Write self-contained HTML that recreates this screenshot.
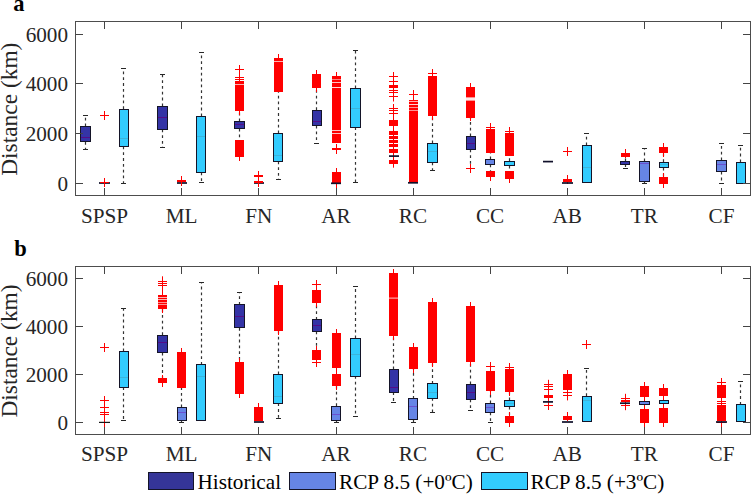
<!DOCTYPE html>
<html><head><meta charset="utf-8"><style>
html,body{margin:0;padding:0;background:#fff;}
body{width:751px;height:494px;overflow:hidden;}
svg{display:block;}
.t{font-family:"Liberation Serif",serif;font-size:21.2px;fill:#262626;}
.yl{font-family:"Liberation Serif",serif;font-size:23.4px;fill:#262626;}
.pl{font-family:"Liberation Serif",serif;font-size:22.5px;font-weight:bold;fill:#000;}
.lg{font-family:"Liberation Serif",serif;font-size:21.2px;fill:#000;}
</style></head><body>
<svg width="751" height="494" viewBox="0 0 751 494" shape-rendering="auto">
<line x1="85.50" y1="126.40" x2="85.50" y2="115.40" stroke="#333333" stroke-width="1.2" stroke-dasharray="2.8,3.0"/>
<line x1="83.00" y1="115.50" x2="88.00" y2="115.50" stroke="#262626" stroke-width="1.0"/>
<line x1="85.50" y1="141.90" x2="85.50" y2="149.20" stroke="#333333" stroke-width="1.2" stroke-dasharray="2.8,3.0"/>
<line x1="83.00" y1="149.50" x2="88.00" y2="149.50" stroke="#262626" stroke-width="1.0"/>
<rect x="80.50" y="126.50" width="10.00" height="15.00" fill="#3434a6" stroke="#141428" stroke-width="1.0"/>
<line x1="81.00" y1="137.50" x2="90.00" y2="137.50" stroke="#550c88" stroke-width="1.0"/>
<rect x="99.00" y="182.15" width="11.00" height="1.70" fill="#10102a"/>
<path d="M100.0 115.5H109.0M104.5 111.0V120.0" stroke="#ff0000" stroke-width="1" fill="none"/>
<path d="M100.0 182.5H109.0M104.5 178.0V187.0" stroke="#ff0000" stroke-width="1" fill="none"/>
<line x1="123.50" y1="109.10" x2="123.50" y2="68.10" stroke="#333333" stroke-width="1.2" stroke-dasharray="2.8,3.0"/>
<line x1="121.00" y1="68.50" x2="126.00" y2="68.50" stroke="#262626" stroke-width="1.0"/>
<line x1="123.50" y1="146.50" x2="123.50" y2="183.30" stroke="#333333" stroke-width="1.2" stroke-dasharray="2.8,3.0"/>
<line x1="121.00" y1="183.50" x2="126.00" y2="183.50" stroke="#262626" stroke-width="1.0"/>
<rect x="119.50" y="109.50" width="9.00" height="37.00" fill="#33ccff" stroke="#141428" stroke-width="1.0"/>
<line x1="120.00" y1="138.50" x2="128.00" y2="138.50" stroke="#3cb4dc" stroke-width="1.0"/>
<line x1="162.50" y1="106.20" x2="162.50" y2="74.50" stroke="#333333" stroke-width="1.2" stroke-dasharray="2.8,3.0"/>
<line x1="160.00" y1="74.50" x2="165.00" y2="74.50" stroke="#262626" stroke-width="1.0"/>
<line x1="162.50" y1="129.40" x2="162.50" y2="147.20" stroke="#333333" stroke-width="1.2" stroke-dasharray="2.8,3.0"/>
<line x1="160.00" y1="147.50" x2="165.00" y2="147.50" stroke="#262626" stroke-width="1.0"/>
<rect x="157.50" y="106.50" width="10.00" height="23.00" fill="#3434a6" stroke="#141428" stroke-width="1.0"/>
<line x1="158.00" y1="117.50" x2="167.00" y2="117.50" stroke="#550c88" stroke-width="1.0"/>
<rect x="177.00" y="182.15" width="10.00" height="1.70" fill="#10102a"/>
<path d="M177.0 180.5H186.0M181.5 176.0V185.0" stroke="#ff0000" stroke-width="1" fill="none"/>
<path d="M177.0 181.5H186.0M181.5 177.0V186.0" stroke="#ff0000" stroke-width="1" fill="none"/>
<line x1="201.50" y1="116.20" x2="201.50" y2="52.00" stroke="#333333" stroke-width="1.2" stroke-dasharray="2.8,3.0"/>
<line x1="199.00" y1="52.50" x2="204.00" y2="52.50" stroke="#262626" stroke-width="1.0"/>
<line x1="201.50" y1="172.50" x2="201.50" y2="182.80" stroke="#333333" stroke-width="1.2" stroke-dasharray="2.8,3.0"/>
<line x1="199.00" y1="182.50" x2="204.00" y2="182.50" stroke="#262626" stroke-width="1.0"/>
<rect x="196.50" y="116.50" width="9.00" height="56.00" fill="#33ccff" stroke="#141428" stroke-width="1.0"/>
<line x1="197.00" y1="136.50" x2="205.00" y2="136.50" stroke="#3cb4dc" stroke-width="1.0"/>
<line x1="239.50" y1="121.20" x2="239.50" y2="112.00" stroke="#333333" stroke-width="1.2" stroke-dasharray="2.8,3.0"/>
<line x1="239.50" y1="128.70" x2="239.50" y2="137.60" stroke="#333333" stroke-width="1.2" stroke-dasharray="2.8,3.0"/>
<line x1="239.50" y1="65.10" x2="239.50" y2="114.50" stroke="#ff0000" stroke-width="1.0"/>
<path d="M235.0 69.5H244.0M239.5 65.0V74.0" stroke="#ff0000" stroke-width="1" fill="none"/>
<path d="M235.0 77.5H244.0M239.5 73.0V82.0" stroke="#ff0000" stroke-width="1" fill="none"/>
<path d="M235.0 79.5H244.0M239.5 75.0V84.0" stroke="#ff0000" stroke-width="1" fill="none"/>
<path d="M235.0 110.5H244.0M239.5 106.0V115.0" stroke="#ff0000" stroke-width="1" fill="none"/>
<rect x="235.00" y="81.00" width="9.00" height="29.00" fill="#ff0000"/>
<rect x="235.00" y="84.00" width="9.00" height="1.00" fill="#ffb0b0"/>
<rect x="235.00" y="140.00" width="9.00" height="16.00" fill="#ff0000"/>
<path d="M235.0 156.5H244.0M239.5 152.0V161.0" stroke="#ff0000" stroke-width="1" fill="none"/>
<rect x="234.50" y="121.50" width="10.00" height="7.00" fill="#3434a6" stroke="#141428" stroke-width="1.0"/>
<line x1="235.00" y1="124.50" x2="244.00" y2="124.50" stroke="#550c88" stroke-width="1.0"/>
<rect x="254.00" y="182.15" width="10.00" height="1.70" fill="#10102a"/>
<path d="M254.0 175.5H263.0M258.5 171.0V180.0" stroke="#ff0000" stroke-width="1" fill="none"/>
<path d="M254.0 176.5H263.0M258.5 172.0V181.0" stroke="#ff0000" stroke-width="1" fill="none"/>
<path d="M254.0 181.5H263.0M258.5 177.0V186.0" stroke="#ff0000" stroke-width="1" fill="none"/>
<path d="M254.0 182.5H263.0M258.5 178.0V187.0" stroke="#ff0000" stroke-width="1" fill="none"/>
<line x1="278.50" y1="133.30" x2="278.50" y2="92.00" stroke="#333333" stroke-width="1.2" stroke-dasharray="2.8,3.0"/>
<rect x="274.00" y="58.00" width="9.00" height="34.00" fill="#ff0000"/>
<path d="M274.0 58.5H283.0M278.5 54.0V63.0" stroke="#ff0000" stroke-width="1" fill="none"/>
<rect x="274.00" y="61.00" width="9.00" height="1.00" fill="#ffb0b0"/>
<line x1="278.50" y1="161.40" x2="278.50" y2="179.40" stroke="#333333" stroke-width="1.2" stroke-dasharray="2.8,3.0"/>
<line x1="276.00" y1="179.50" x2="281.00" y2="179.50" stroke="#262626" stroke-width="1.0"/>
<rect x="273.50" y="133.50" width="9.00" height="28.00" fill="#33ccff" stroke="#141428" stroke-width="1.0"/>
<line x1="274.00" y1="155.50" x2="282.00" y2="155.50" stroke="#3cb4dc" stroke-width="1.0"/>
<line x1="316.50" y1="110.10" x2="316.50" y2="87.50" stroke="#333333" stroke-width="1.2" stroke-dasharray="2.8,3.0"/>
<rect x="312.00" y="74.00" width="9.00" height="14.00" fill="#ff0000"/>
<path d="M312.0 74.5H321.0M316.5 70.0V79.0" stroke="#ff0000" stroke-width="1" fill="none"/>
<path d="M312.0 87.5H321.0M316.5 83.0V92.0" stroke="#ff0000" stroke-width="1" fill="none"/>
<line x1="316.50" y1="125.60" x2="316.50" y2="143.70" stroke="#333333" stroke-width="1.2" stroke-dasharray="2.8,3.0"/>
<line x1="314.00" y1="143.50" x2="319.00" y2="143.50" stroke="#262626" stroke-width="1.0"/>
<rect x="312.50" y="110.50" width="9.00" height="15.00" fill="#3434a6" stroke="#141428" stroke-width="1.0"/>
<line x1="313.00" y1="121.50" x2="321.00" y2="121.50" stroke="#550c88" stroke-width="1.0"/>
<rect x="332.00" y="76.00" width="9.00" height="67.00" fill="#ff0000"/>
<path d="M332.0 76.5H341.0M336.5 72.0V81.0" stroke="#ff0000" stroke-width="1" fill="none"/>
<path d="M332.0 148.5H341.0M336.5 144.0V153.0" stroke="#ff0000" stroke-width="1" fill="none"/>
<path d="M332.0 149.5H341.0M336.5 145.0V154.0" stroke="#ff0000" stroke-width="1" fill="none"/>
<rect x="332.00" y="79.00" width="9.00" height="1.00" fill="#ff8080"/>
<rect x="332.00" y="82.00" width="9.00" height="1.00" fill="#ffc0c0"/>
<rect x="332.00" y="87.00" width="9.00" height="1.00" fill="#ffd8d8"/>
<rect x="332.00" y="130.00" width="9.00" height="1.00" fill="#ffc0c0"/>
<rect x="332.00" y="133.00" width="9.00" height="1.00" fill="#ffc0c0"/>
<path d="M332.0 172.5H341.0M336.5 168.0V177.0" stroke="#ff0000" stroke-width="1" fill="none"/>
<rect x="332.00" y="172.00" width="9.00" height="11.00" fill="#ff0000"/>
<path d="M332.0 183.5H341.0M336.5 179.0V188.0" stroke="#ff0000" stroke-width="1" fill="none"/>
<rect x="331.00" y="182.45" width="10.00" height="1.70" fill="#10102a"/>
<line x1="355.50" y1="88.40" x2="355.50" y2="50.60" stroke="#333333" stroke-width="1.2" stroke-dasharray="2.8,3.0"/>
<line x1="353.00" y1="50.50" x2="358.00" y2="50.50" stroke="#262626" stroke-width="1.0"/>
<line x1="355.50" y1="127.20" x2="355.50" y2="182.40" stroke="#333333" stroke-width="1.2" stroke-dasharray="2.8,3.0"/>
<line x1="353.00" y1="182.50" x2="358.00" y2="182.50" stroke="#262626" stroke-width="1.0"/>
<rect x="350.50" y="88.50" width="10.00" height="39.00" fill="#33ccff" stroke="#141428" stroke-width="1.0"/>
<line x1="351.00" y1="108.50" x2="360.00" y2="108.50" stroke="#3cb4dc" stroke-width="1.0"/>
<line x1="393.50" y1="72.10" x2="393.50" y2="101.50" stroke="#ff0000" stroke-width="1.0"/>
<line x1="393.50" y1="104.00" x2="393.50" y2="167.70" stroke="#ff0000" stroke-width="1.0"/>
<path d="M389.0 76.5H398.0M393.5 72.0V81.0" stroke="#ff0000" stroke-width="1" fill="none"/>
<path d="M389.0 81.5H398.0M393.5 77.0V86.0" stroke="#ff0000" stroke-width="1" fill="none"/>
<path d="M389.0 90.5H398.0M393.5 86.0V95.0" stroke="#ff0000" stroke-width="1" fill="none"/>
<path d="M389.0 92.5H398.0M393.5 88.0V97.0" stroke="#ff0000" stroke-width="1" fill="none"/>
<path d="M389.0 96.5H398.0M393.5 92.0V101.0" stroke="#ff0000" stroke-width="1" fill="none"/>
<path d="M389.0 108.5H398.0M393.5 104.0V113.0" stroke="#ff0000" stroke-width="1" fill="none"/>
<path d="M389.0 110.5H398.0M393.5 106.0V115.0" stroke="#ff0000" stroke-width="1" fill="none"/>
<path d="M389.0 113.5H398.0M393.5 109.0V118.0" stroke="#ff0000" stroke-width="1" fill="none"/>
<rect x="389.00" y="85.00" width="9.00" height="3.00" fill="#ff0000"/>
<rect x="389.00" y="120.00" width="9.00" height="6.00" fill="#ff0000"/>
<rect x="389.00" y="131.00" width="9.00" height="4.00" fill="#ff0000"/>
<rect x="389.00" y="136.00" width="9.00" height="3.00" fill="#ff0000"/>
<rect x="389.00" y="140.00" width="9.00" height="3.00" fill="#ff0000"/>
<rect x="389.00" y="144.00" width="9.00" height="3.00" fill="#ff0000"/>
<rect x="389.00" y="149.00" width="9.00" height="4.00" fill="#ff0000"/>
<rect x="389.00" y="160.00" width="9.00" height="4.00" fill="#ff0000"/>
<rect x="389.00" y="155.25" width="10.00" height="1.70" fill="#10102a"/>
<rect x="409.00" y="100.00" width="9.00" height="82.00" fill="#ff0000"/>
<path d="M409.0 94.5H418.0M413.5 90.0V99.0" stroke="#ff0000" stroke-width="1" fill="none"/>
<path d="M409.0 100.5H418.0M413.5 96.0V105.0" stroke="#ff0000" stroke-width="1" fill="none"/>
<rect x="408.00" y="181.95" width="10.00" height="1.70" fill="#10102a"/>
<rect x="409.00" y="101.00" width="9.00" height="1.00" fill="#ffb0b0"/>
<rect x="409.00" y="104.00" width="9.00" height="1.00" fill="#ffd0d0"/>
<rect x="409.00" y="107.00" width="9.00" height="1.00" fill="#ff9090"/>
<rect x="409.00" y="110.00" width="9.00" height="1.00" fill="#ff9090"/>
<line x1="432.50" y1="143.40" x2="432.50" y2="116.00" stroke="#333333" stroke-width="1.2" stroke-dasharray="2.8,3.0"/>
<rect x="428.00" y="76.00" width="9.00" height="39.00" fill="#ff0000"/>
<path d="M428.0 73.5H437.0M432.5 69.0V78.0" stroke="#ff0000" stroke-width="1" fill="none"/>
<path d="M428.0 115.5H437.0M432.5 111.0V120.0" stroke="#ff0000" stroke-width="1" fill="none"/>
<line x1="432.50" y1="162.50" x2="432.50" y2="170.30" stroke="#333333" stroke-width="1.2" stroke-dasharray="2.8,3.0"/>
<line x1="430.00" y1="170.50" x2="435.00" y2="170.50" stroke="#262626" stroke-width="1.0"/>
<rect x="427.50" y="143.50" width="10.00" height="19.00" fill="#33ccff" stroke="#141428" stroke-width="1.0"/>
<line x1="428.00" y1="151.50" x2="437.00" y2="151.50" stroke="#3cb4dc" stroke-width="1.0"/>
<line x1="470.50" y1="136.30" x2="470.50" y2="117.00" stroke="#333333" stroke-width="1.2" stroke-dasharray="2.8,3.0"/>
<line x1="470.50" y1="149.40" x2="470.50" y2="164.00" stroke="#333333" stroke-width="1.2" stroke-dasharray="2.8,3.0"/>
<rect x="466.00" y="87.00" width="9.00" height="10.00" fill="#ff0000"/>
<rect x="466.00" y="101.00" width="9.00" height="17.00" fill="#ff0000"/>
<rect x="466.00" y="97.00" width="9.00" height="1.00" fill="#ff9090"/>
<rect x="466.00" y="98.00" width="9.00" height="2.00" fill="#ffe8e8"/>
<rect x="466.00" y="100.00" width="9.00" height="1.00" fill="#ff9090"/>
<path d="M466.0 87.5H475.0M470.5 83.0V92.0" stroke="#ff0000" stroke-width="1" fill="none"/>
<path d="M466.0 116.5H475.0M470.5 112.0V121.0" stroke="#ff0000" stroke-width="1" fill="none"/>
<path d="M466.0 168.5H475.0M470.5 164.0V173.0" stroke="#ff0000" stroke-width="1" fill="none"/>
<rect x="466.50" y="136.50" width="9.00" height="13.00" fill="#3434a6" stroke="#141428" stroke-width="1.0"/>
<line x1="467.00" y1="143.50" x2="475.00" y2="143.50" stroke="#550c88" stroke-width="1.0"/>
<line x1="490.50" y1="159.30" x2="490.50" y2="152.00" stroke="#333333" stroke-width="1.2" stroke-dasharray="2.8,3.0"/>
<line x1="490.50" y1="164.40" x2="490.50" y2="171.00" stroke="#333333" stroke-width="1.2" stroke-dasharray="2.8,3.0"/>
<rect x="486.00" y="129.00" width="9.00" height="24.00" fill="#ff0000"/>
<path d="M486.0 127.5H495.0M490.5 123.0V132.0" stroke="#ff0000" stroke-width="1" fill="none"/>
<rect x="486.00" y="171.00" width="9.00" height="5.00" fill="#ff0000"/>
<path d="M486.0 176.5H495.0M490.5 172.0V181.0" stroke="#ff0000" stroke-width="1" fill="none"/>
<rect x="485.50" y="159.50" width="9.00" height="5.00" fill="#6685e6" stroke="#141428" stroke-width="1.0"/>
<line x1="509.50" y1="161.10" x2="509.50" y2="155.00" stroke="#333333" stroke-width="1.2" stroke-dasharray="2.8,3.0"/>
<line x1="509.50" y1="165.70" x2="509.50" y2="171.00" stroke="#333333" stroke-width="1.2" stroke-dasharray="2.8,3.0"/>
<rect x="505.00" y="133.00" width="9.00" height="23.00" fill="#ff0000"/>
<path d="M505.0 131.5H514.0M509.5 127.0V136.0" stroke="#ff0000" stroke-width="1" fill="none"/>
<rect x="505.00" y="171.00" width="9.00" height="8.00" fill="#ff0000"/>
<path d="M505.0 178.5H514.0M509.5 174.0V183.0" stroke="#ff0000" stroke-width="1" fill="none"/>
<rect x="504.50" y="161.50" width="10.00" height="4.00" fill="#33ccff" stroke="#141428" stroke-width="1.0"/>
<rect x="543.00" y="160.75" width="10.00" height="1.70" fill="#10102a"/>
<path d="M563.0 151.5H572.0M567.5 147.0V156.0" stroke="#ff0000" stroke-width="1" fill="none"/>
<rect x="563.00" y="179.00" width="9.00" height="3.00" fill="#ff0000"/>
<path d="M563.0 179.5H572.0M567.5 175.0V184.0" stroke="#ff0000" stroke-width="1" fill="none"/>
<rect x="562.00" y="182.15" width="11.00" height="1.70" fill="#10102a"/>
<line x1="586.50" y1="145.30" x2="586.50" y2="133.80" stroke="#333333" stroke-width="1.2" stroke-dasharray="2.8,3.0"/>
<line x1="584.00" y1="133.50" x2="589.00" y2="133.50" stroke="#262626" stroke-width="1.0"/>
<rect x="582.50" y="145.50" width="9.00" height="37.00" fill="#33ccff" stroke="#141428" stroke-width="1.0"/>
<line x1="583.00" y1="167.50" x2="591.00" y2="167.50" stroke="#3cb4dc" stroke-width="1.0"/>
<line x1="625.50" y1="161.20" x2="625.50" y2="157.00" stroke="#333333" stroke-width="1.2" stroke-dasharray="2.8,3.0"/>
<rect x="621.00" y="153.00" width="9.00" height="4.00" fill="#ff0000"/>
<path d="M621.0 153.5H630.0M625.5 149.0V158.0" stroke="#ff0000" stroke-width="1" fill="none"/>
<line x1="625.50" y1="164.20" x2="625.50" y2="168.40" stroke="#333333" stroke-width="1.2" stroke-dasharray="2.8,3.0"/>
<line x1="623.00" y1="168.50" x2="628.00" y2="168.50" stroke="#262626" stroke-width="1.0"/>
<rect x="620.50" y="161.50" width="9.00" height="3.00" fill="#3434a6" stroke="#141428" stroke-width="1.0"/>
<line x1="644.50" y1="161.20" x2="644.50" y2="148.40" stroke="#333333" stroke-width="1.2" stroke-dasharray="2.8,3.0"/>
<line x1="642.00" y1="148.50" x2="647.00" y2="148.50" stroke="#262626" stroke-width="1.0"/>
<line x1="644.50" y1="181.60" x2="644.50" y2="183.30" stroke="#333333" stroke-width="1.2" stroke-dasharray="2.8,3.0"/>
<line x1="642.00" y1="183.50" x2="647.00" y2="183.50" stroke="#262626" stroke-width="1.0"/>
<rect x="639.50" y="161.50" width="10.00" height="20.00" fill="#6685e6" stroke="#141428" stroke-width="1.0"/>
<line x1="640.00" y1="163.50" x2="649.00" y2="163.50" stroke="#6a50d0" stroke-width="1.0"/>
<line x1="663.50" y1="162.00" x2="663.50" y2="153.00" stroke="#333333" stroke-width="1.2" stroke-dasharray="2.8,3.0"/>
<line x1="663.50" y1="167.80" x2="663.50" y2="177.00" stroke="#333333" stroke-width="1.2" stroke-dasharray="2.8,3.0"/>
<rect x="659.00" y="147.00" width="9.00" height="6.00" fill="#ff0000"/>
<path d="M659.0 147.5H668.0M663.5 143.0V152.0" stroke="#ff0000" stroke-width="1" fill="none"/>
<path d="M659.0 152.5H668.0M663.5 148.0V157.0" stroke="#ff0000" stroke-width="1" fill="none"/>
<rect x="659.00" y="177.00" width="9.00" height="7.00" fill="#ff0000"/>
<path d="M659.0 177.5H668.0M663.5 173.0V182.0" stroke="#ff0000" stroke-width="1" fill="none"/>
<path d="M659.0 183.5H668.0M663.5 179.0V188.0" stroke="#ff0000" stroke-width="1" fill="none"/>
<rect x="659.50" y="162.50" width="9.00" height="5.00" fill="#33ccff" stroke="#141428" stroke-width="1.0"/>
<line x1="660.00" y1="164.50" x2="668.00" y2="164.50" stroke="#3cb4dc" stroke-width="1.0"/>
<line x1="721.50" y1="160.30" x2="721.50" y2="143.40" stroke="#333333" stroke-width="1.2" stroke-dasharray="2.8,3.0"/>
<line x1="719.00" y1="143.50" x2="724.00" y2="143.50" stroke="#262626" stroke-width="1.0"/>
<line x1="721.50" y1="171.80" x2="721.50" y2="183.30" stroke="#333333" stroke-width="1.2" stroke-dasharray="2.8,3.0"/>
<line x1="719.00" y1="183.50" x2="724.00" y2="183.50" stroke="#262626" stroke-width="1.0"/>
<rect x="716.50" y="160.50" width="10.00" height="11.00" fill="#6685e6" stroke="#141428" stroke-width="1.0"/>
<line x1="717.00" y1="164.50" x2="726.00" y2="164.50" stroke="#6a50d0" stroke-width="1.0"/>
<line x1="740.50" y1="162.20" x2="740.50" y2="145.40" stroke="#333333" stroke-width="1.2" stroke-dasharray="2.8,3.0"/>
<line x1="738.00" y1="145.50" x2="743.00" y2="145.50" stroke="#262626" stroke-width="1.0"/>
<rect x="736.50" y="162.50" width="9.00" height="21.00" fill="#33ccff" stroke="#141428" stroke-width="1.0"/>
<rect x="75.50" y="21.50" width="675.00" height="174.00" fill="none" stroke="#4d4d4d" stroke-width="1.0"/>
<line x1="75.50" y1="183.50" x2="83.00" y2="183.50" stroke="#444444" stroke-width="1.0"/>
<line x1="750.50" y1="183.50" x2="743.00" y2="183.50" stroke="#444444" stroke-width="1.0"/>
<line x1="75.50" y1="133.50" x2="83.00" y2="133.50" stroke="#444444" stroke-width="1.0"/>
<line x1="750.50" y1="133.50" x2="743.00" y2="133.50" stroke="#444444" stroke-width="1.0"/>
<line x1="75.50" y1="83.50" x2="83.00" y2="83.50" stroke="#444444" stroke-width="1.0"/>
<line x1="750.50" y1="83.50" x2="743.00" y2="83.50" stroke="#444444" stroke-width="1.0"/>
<line x1="75.50" y1="34.50" x2="83.00" y2="34.50" stroke="#444444" stroke-width="1.0"/>
<line x1="750.50" y1="34.50" x2="743.00" y2="34.50" stroke="#444444" stroke-width="1.0"/>
<line x1="104.50" y1="195.50" x2="104.50" y2="188.00" stroke="#444444" stroke-width="1.0"/>
<line x1="104.50" y1="21.50" x2="104.50" y2="29.00" stroke="#444444" stroke-width="1.0"/>
<line x1="181.50" y1="195.50" x2="181.50" y2="188.00" stroke="#444444" stroke-width="1.0"/>
<line x1="181.50" y1="21.50" x2="181.50" y2="29.00" stroke="#444444" stroke-width="1.0"/>
<line x1="258.50" y1="195.50" x2="258.50" y2="188.00" stroke="#444444" stroke-width="1.0"/>
<line x1="258.50" y1="21.50" x2="258.50" y2="29.00" stroke="#444444" stroke-width="1.0"/>
<line x1="336.50" y1="195.50" x2="336.50" y2="188.00" stroke="#444444" stroke-width="1.0"/>
<line x1="336.50" y1="21.50" x2="336.50" y2="29.00" stroke="#444444" stroke-width="1.0"/>
<line x1="413.50" y1="195.50" x2="413.50" y2="188.00" stroke="#444444" stroke-width="1.0"/>
<line x1="413.50" y1="21.50" x2="413.50" y2="29.00" stroke="#444444" stroke-width="1.0"/>
<line x1="490.50" y1="195.50" x2="490.50" y2="188.00" stroke="#444444" stroke-width="1.0"/>
<line x1="490.50" y1="21.50" x2="490.50" y2="29.00" stroke="#444444" stroke-width="1.0"/>
<line x1="567.50" y1="195.50" x2="567.50" y2="188.00" stroke="#444444" stroke-width="1.0"/>
<line x1="567.50" y1="21.50" x2="567.50" y2="29.00" stroke="#444444" stroke-width="1.0"/>
<line x1="644.50" y1="195.50" x2="644.50" y2="188.00" stroke="#444444" stroke-width="1.0"/>
<line x1="644.50" y1="21.50" x2="644.50" y2="29.00" stroke="#444444" stroke-width="1.0"/>
<line x1="721.50" y1="195.50" x2="721.50" y2="188.00" stroke="#444444" stroke-width="1.0"/>
<line x1="721.50" y1="21.50" x2="721.50" y2="29.00" stroke="#444444" stroke-width="1.0"/>
<path d="M100.0 347.5H109.0M104.5 343.0V352.0" stroke="#ff0000" stroke-width="1" fill="none"/>
<path d="M100.0 400.5H109.0M104.5 396.0V405.0" stroke="#ff0000" stroke-width="1" fill="none"/>
<path d="M100.0 407.5H109.0M104.5 403.0V412.0" stroke="#ff0000" stroke-width="1" fill="none"/>
<path d="M100.0 412.5H109.0M104.5 408.0V417.0" stroke="#ff0000" stroke-width="1" fill="none"/>
<path d="M100.0 414.5H109.0M104.5 410.0V419.0" stroke="#ff0000" stroke-width="1" fill="none"/>
<path d="M100.0 422.5H109.0M104.5 418.0V427.0" stroke="#ff0000" stroke-width="1" fill="none"/>
<rect x="99.00" y="421.80" width="11.00" height="1.20" fill="#181818"/>
<line x1="123.50" y1="351.40" x2="123.50" y2="308.90" stroke="#333333" stroke-width="1.2" stroke-dasharray="2.8,3.0"/>
<line x1="121.00" y1="308.50" x2="126.00" y2="308.50" stroke="#262626" stroke-width="1.0"/>
<line x1="123.50" y1="387.10" x2="123.50" y2="420.30" stroke="#333333" stroke-width="1.2" stroke-dasharray="2.8,3.0"/>
<line x1="121.00" y1="420.50" x2="126.00" y2="420.50" stroke="#262626" stroke-width="1.0"/>
<rect x="119.50" y="351.50" width="9.00" height="36.00" fill="#33ccff" stroke="#141428" stroke-width="1.0"/>
<line x1="120.00" y1="377.50" x2="128.00" y2="377.50" stroke="#3cb4dc" stroke-width="1.0"/>
<line x1="162.50" y1="335.10" x2="162.50" y2="309.00" stroke="#333333" stroke-width="1.2" stroke-dasharray="2.8,3.0"/>
<line x1="162.50" y1="352.70" x2="162.50" y2="378.00" stroke="#333333" stroke-width="1.2" stroke-dasharray="2.8,3.0"/>
<line x1="162.50" y1="276.30" x2="162.50" y2="313.00" stroke="#ff0000" stroke-width="1.0"/>
<path d="M158.0 281.5H167.0M162.5 277.0V286.0" stroke="#ff0000" stroke-width="1" fill="none"/>
<path d="M158.0 281.5H167.0M162.5 277.0V286.0" stroke="#ff0000" stroke-width="1" fill="none"/>
<path d="M158.0 283.5H167.0M162.5 279.0V288.0" stroke="#ff0000" stroke-width="1" fill="none"/>
<path d="M158.0 285.5H167.0M162.5 281.0V290.0" stroke="#ff0000" stroke-width="1" fill="none"/>
<path d="M158.0 295.5H167.0M162.5 291.0V300.0" stroke="#ff0000" stroke-width="1" fill="none"/>
<path d="M158.0 297.5H167.0M162.5 293.0V302.0" stroke="#ff0000" stroke-width="1" fill="none"/>
<path d="M158.0 299.5H167.0M162.5 295.0V304.0" stroke="#ff0000" stroke-width="1" fill="none"/>
<path d="M158.0 308.5H167.0M162.5 304.0V313.0" stroke="#ff0000" stroke-width="1" fill="none"/>
<rect x="158.00" y="295.00" width="9.00" height="14.00" fill="#ff0000"/>
<rect x="158.00" y="297.00" width="9.00" height="1.00" fill="#ffb0b0"/>
<rect x="158.00" y="299.00" width="9.00" height="1.00" fill="#ffb0b0"/>
<rect x="158.00" y="302.00" width="9.00" height="1.00" fill="#ff9090"/>
<rect x="158.00" y="304.00" width="9.00" height="1.00" fill="#ff9090"/>
<rect x="158.00" y="378.00" width="9.00" height="5.00" fill="#ff0000"/>
<path d="M158.0 379.5H167.0M162.5 375.0V384.0" stroke="#ff0000" stroke-width="1" fill="none"/>
<path d="M158.0 382.5H167.0M162.5 378.0V387.0" stroke="#ff0000" stroke-width="1" fill="none"/>
<rect x="157.50" y="335.50" width="10.00" height="17.00" fill="#3434a6" stroke="#141428" stroke-width="1.0"/>
<line x1="158.00" y1="342.50" x2="167.00" y2="342.50" stroke="#550c88" stroke-width="1.0"/>
<line x1="181.50" y1="407.30" x2="181.50" y2="388.00" stroke="#333333" stroke-width="1.2" stroke-dasharray="2.8,3.0"/>
<rect x="177.00" y="352.00" width="9.00" height="36.00" fill="#ff0000"/>
<path d="M177.0 352.5H186.0M181.5 348.0V357.0" stroke="#ff0000" stroke-width="1" fill="none"/>
<line x1="181.50" y1="420.30" x2="181.50" y2="422.00" stroke="#333333" stroke-width="1.2" stroke-dasharray="2.8,3.0"/>
<line x1="179.00" y1="422.50" x2="184.00" y2="422.50" stroke="#262626" stroke-width="1.0"/>
<rect x="177.50" y="407.50" width="9.00" height="13.00" fill="#6685e6" stroke="#141428" stroke-width="1.0"/>
<line x1="178.00" y1="412.50" x2="186.00" y2="412.50" stroke="#6a50d0" stroke-width="1.0"/>
<line x1="201.50" y1="364.80" x2="201.50" y2="282.60" stroke="#333333" stroke-width="1.2" stroke-dasharray="2.8,3.0"/>
<line x1="199.00" y1="282.50" x2="204.00" y2="282.50" stroke="#262626" stroke-width="1.0"/>
<rect x="196.50" y="364.50" width="9.00" height="56.00" fill="#33ccff" stroke="#141428" stroke-width="1.0"/>
<line x1="197.00" y1="376.50" x2="205.00" y2="376.50" stroke="#3cb4dc" stroke-width="1.0"/>
<line x1="239.50" y1="328.00" x2="239.50" y2="362.00" stroke="#333333" stroke-width="1.2" stroke-dasharray="2.8,3.0"/>
<rect x="235.00" y="362.00" width="9.00" height="32.00" fill="#ff0000"/>
<path d="M235.0 362.5H244.0M239.5 358.0V367.0" stroke="#ff0000" stroke-width="1" fill="none"/>
<path d="M235.0 391.5H244.0M239.5 387.0V396.0" stroke="#ff0000" stroke-width="1" fill="none"/>
<path d="M235.0 393.5H244.0M239.5 389.0V398.0" stroke="#ff0000" stroke-width="1" fill="none"/>
<line x1="239.50" y1="304.90" x2="239.50" y2="292.00" stroke="#333333" stroke-width="1.2" stroke-dasharray="2.8,3.0"/>
<line x1="237.00" y1="292.50" x2="242.00" y2="292.50" stroke="#262626" stroke-width="1.0"/>
<rect x="234.50" y="304.50" width="10.00" height="23.00" fill="#3434a6" stroke="#141428" stroke-width="1.0"/>
<line x1="235.00" y1="316.50" x2="244.00" y2="316.50" stroke="#550c88" stroke-width="1.0"/>
<rect x="254.00" y="407.00" width="9.00" height="14.00" fill="#ff0000"/>
<path d="M254.0 407.5H263.0M258.5 403.0V412.0" stroke="#ff0000" stroke-width="1" fill="none"/>
<rect x="254.00" y="421.15" width="10.00" height="1.70" fill="#10102a"/>
<line x1="278.50" y1="374.40" x2="278.50" y2="330.00" stroke="#333333" stroke-width="1.2" stroke-dasharray="2.8,3.0"/>
<rect x="274.00" y="286.00" width="9.00" height="44.00" fill="#ff0000"/>
<path d="M274.0 285.5H283.0M278.5 281.0V290.0" stroke="#ff0000" stroke-width="1" fill="none"/>
<path d="M274.0 330.5H283.0M278.5 326.0V335.0" stroke="#ff0000" stroke-width="1" fill="none"/>
<line x1="278.50" y1="403.30" x2="278.50" y2="418.10" stroke="#333333" stroke-width="1.2" stroke-dasharray="2.8,3.0"/>
<line x1="276.00" y1="418.50" x2="281.00" y2="418.50" stroke="#262626" stroke-width="1.0"/>
<rect x="273.50" y="374.50" width="9.00" height="29.00" fill="#33ccff" stroke="#141428" stroke-width="1.0"/>
<line x1="274.00" y1="396.50" x2="282.00" y2="396.50" stroke="#3cb4dc" stroke-width="1.0"/>
<line x1="316.50" y1="319.90" x2="316.50" y2="302.00" stroke="#333333" stroke-width="1.2" stroke-dasharray="2.8,3.0"/>
<line x1="316.50" y1="331.40" x2="316.50" y2="349.00" stroke="#333333" stroke-width="1.2" stroke-dasharray="2.8,3.0"/>
<rect x="312.00" y="290.00" width="9.00" height="12.00" fill="#ff0000"/>
<path d="M312.0 284.5H321.0M316.5 280.0V289.0" stroke="#ff0000" stroke-width="1" fill="none"/>
<path d="M312.0 290.5H321.0M316.5 286.0V295.0" stroke="#ff0000" stroke-width="1" fill="none"/>
<path d="M312.0 302.5H321.0M316.5 298.0V307.0" stroke="#ff0000" stroke-width="1" fill="none"/>
<rect x="312.00" y="350.00" width="9.00" height="10.00" fill="#ff0000"/>
<path d="M312.0 350.5H321.0M316.5 346.0V355.0" stroke="#ff0000" stroke-width="1" fill="none"/>
<path d="M312.0 362.5H321.0M316.5 358.0V367.0" stroke="#ff0000" stroke-width="1" fill="none"/>
<rect x="312.50" y="319.50" width="9.00" height="12.00" fill="#3434a6" stroke="#141428" stroke-width="1.0"/>
<line x1="313.00" y1="325.50" x2="321.00" y2="325.50" stroke="#550c88" stroke-width="1.0"/>
<line x1="336.50" y1="406.10" x2="336.50" y2="386.00" stroke="#333333" stroke-width="1.2" stroke-dasharray="2.8,3.0"/>
<rect x="332.00" y="333.00" width="9.00" height="34.00" fill="#ff0000"/>
<path d="M332.0 333.5H341.0M336.5 329.0V338.0" stroke="#ff0000" stroke-width="1" fill="none"/>
<path d="M332.0 367.5H341.0M336.5 363.0V372.0" stroke="#ff0000" stroke-width="1" fill="none"/>
<rect x="332.00" y="374.00" width="9.00" height="12.00" fill="#ff0000"/>
<path d="M332.0 374.5H341.0M336.5 370.0V379.0" stroke="#ff0000" stroke-width="1" fill="none"/>
<path d="M332.0 385.5H341.0M336.5 381.0V390.0" stroke="#ff0000" stroke-width="1" fill="none"/>
<line x1="336.50" y1="420.30" x2="336.50" y2="422.00" stroke="#333333" stroke-width="1.2" stroke-dasharray="2.8,3.0"/>
<line x1="334.00" y1="422.50" x2="339.00" y2="422.50" stroke="#262626" stroke-width="1.0"/>
<rect x="331.50" y="406.50" width="9.00" height="14.00" fill="#6685e6" stroke="#141428" stroke-width="1.0"/>
<line x1="332.00" y1="414.50" x2="340.00" y2="414.50" stroke="#6a50d0" stroke-width="1.0"/>
<line x1="355.50" y1="338.30" x2="355.50" y2="286.70" stroke="#333333" stroke-width="1.2" stroke-dasharray="2.8,3.0"/>
<line x1="353.00" y1="286.50" x2="358.00" y2="286.50" stroke="#262626" stroke-width="1.0"/>
<line x1="355.50" y1="376.00" x2="355.50" y2="416.90" stroke="#333333" stroke-width="1.2" stroke-dasharray="2.8,3.0"/>
<line x1="353.00" y1="416.50" x2="358.00" y2="416.50" stroke="#262626" stroke-width="1.0"/>
<rect x="350.50" y="338.50" width="10.00" height="38.00" fill="#33ccff" stroke="#141428" stroke-width="1.0"/>
<line x1="351.00" y1="354.50" x2="360.00" y2="354.50" stroke="#3cb4dc" stroke-width="1.0"/>
<line x1="393.50" y1="369.20" x2="393.50" y2="336.00" stroke="#333333" stroke-width="1.2" stroke-dasharray="2.8,3.0"/>
<rect x="389.00" y="273.00" width="9.00" height="63.00" fill="#ff0000"/>
<path d="M389.0 273.5H398.0M393.5 269.0V278.0" stroke="#ff0000" stroke-width="1" fill="none"/>
<path d="M389.0 335.5H398.0M393.5 331.0V340.0" stroke="#ff0000" stroke-width="1" fill="none"/>
<rect x="389.00" y="297.60" width="9.00" height="1.00" fill="#ffc8c8"/>
<line x1="393.50" y1="392.30" x2="393.50" y2="402.50" stroke="#333333" stroke-width="1.2" stroke-dasharray="2.8,3.0"/>
<line x1="391.00" y1="402.50" x2="396.00" y2="402.50" stroke="#262626" stroke-width="1.0"/>
<rect x="389.50" y="369.50" width="9.00" height="23.00" fill="#3434a6" stroke="#141428" stroke-width="1.0"/>
<line x1="390.00" y1="387.50" x2="398.00" y2="387.50" stroke="#550c88" stroke-width="1.0"/>
<line x1="413.50" y1="398.90" x2="413.50" y2="368.00" stroke="#333333" stroke-width="1.2" stroke-dasharray="2.8,3.0"/>
<rect x="409.00" y="347.00" width="9.00" height="22.00" fill="#ff0000"/>
<path d="M409.0 347.5H418.0M413.5 343.0V352.0" stroke="#ff0000" stroke-width="1" fill="none"/>
<path d="M409.0 368.5H418.0M413.5 364.0V373.0" stroke="#ff0000" stroke-width="1" fill="none"/>
<line x1="413.50" y1="419.70" x2="413.50" y2="422.40" stroke="#333333" stroke-width="1.2" stroke-dasharray="2.8,3.0"/>
<line x1="411.00" y1="422.50" x2="416.00" y2="422.50" stroke="#262626" stroke-width="1.0"/>
<rect x="408.50" y="398.50" width="9.00" height="21.00" fill="#6685e6" stroke="#141428" stroke-width="1.0"/>
<line x1="409.00" y1="406.50" x2="417.00" y2="406.50" stroke="#6a50d0" stroke-width="1.0"/>
<line x1="432.50" y1="383.70" x2="432.50" y2="362.00" stroke="#333333" stroke-width="1.2" stroke-dasharray="2.8,3.0"/>
<rect x="428.00" y="302.00" width="9.00" height="61.00" fill="#ff0000"/>
<path d="M428.0 302.5H437.0M432.5 298.0V307.0" stroke="#ff0000" stroke-width="1" fill="none"/>
<path d="M428.0 362.5H437.0M432.5 358.0V367.0" stroke="#ff0000" stroke-width="1" fill="none"/>
<line x1="432.50" y1="398.00" x2="432.50" y2="412.40" stroke="#333333" stroke-width="1.2" stroke-dasharray="2.8,3.0"/>
<line x1="430.00" y1="412.50" x2="435.00" y2="412.50" stroke="#262626" stroke-width="1.0"/>
<rect x="427.50" y="383.50" width="10.00" height="15.00" fill="#33ccff" stroke="#141428" stroke-width="1.0"/>
<line x1="428.00" y1="392.50" x2="437.00" y2="392.50" stroke="#3cb4dc" stroke-width="1.0"/>
<line x1="470.50" y1="384.20" x2="470.50" y2="362.00" stroke="#333333" stroke-width="1.2" stroke-dasharray="2.8,3.0"/>
<rect x="466.00" y="306.00" width="9.00" height="56.00" fill="#ff0000"/>
<path d="M466.0 306.5H475.0M470.5 302.0V311.0" stroke="#ff0000" stroke-width="1" fill="none"/>
<path d="M466.0 361.5H475.0M470.5 357.0V366.0" stroke="#ff0000" stroke-width="1" fill="none"/>
<line x1="470.50" y1="399.50" x2="470.50" y2="410.40" stroke="#333333" stroke-width="1.2" stroke-dasharray="2.8,3.0"/>
<line x1="468.00" y1="410.50" x2="473.00" y2="410.50" stroke="#262626" stroke-width="1.0"/>
<rect x="466.50" y="384.50" width="9.00" height="15.00" fill="#3434a6" stroke="#141428" stroke-width="1.0"/>
<line x1="467.00" y1="392.50" x2="475.00" y2="392.50" stroke="#550c88" stroke-width="1.0"/>
<line x1="490.50" y1="403.30" x2="490.50" y2="391.00" stroke="#333333" stroke-width="1.2" stroke-dasharray="2.8,3.0"/>
<rect x="486.00" y="371.00" width="9.00" height="20.00" fill="#ff0000"/>
<path d="M486.0 366.5H495.0M490.5 362.0V371.0" stroke="#ff0000" stroke-width="1" fill="none"/>
<path d="M486.0 371.5H495.0M490.5 367.0V376.0" stroke="#ff0000" stroke-width="1" fill="none"/>
<path d="M486.0 390.5H495.0M490.5 386.0V395.0" stroke="#ff0000" stroke-width="1" fill="none"/>
<line x1="490.50" y1="412.40" x2="490.50" y2="422.10" stroke="#333333" stroke-width="1.2" stroke-dasharray="2.8,3.0"/>
<line x1="488.00" y1="422.50" x2="493.00" y2="422.50" stroke="#262626" stroke-width="1.0"/>
<rect x="485.50" y="403.50" width="9.00" height="9.00" fill="#6685e6" stroke="#141428" stroke-width="1.0"/>
<line x1="486.00" y1="407.50" x2="494.00" y2="407.50" stroke="#6a50d0" stroke-width="1.0"/>
<line x1="509.50" y1="400.20" x2="509.50" y2="392.00" stroke="#333333" stroke-width="1.2" stroke-dasharray="2.8,3.0"/>
<line x1="509.50" y1="406.60" x2="509.50" y2="415.00" stroke="#333333" stroke-width="1.2" stroke-dasharray="2.8,3.0"/>
<rect x="505.00" y="370.00" width="9.00" height="22.00" fill="#ff0000"/>
<path d="M505.0 367.5H514.0M509.5 363.0V372.0" stroke="#ff0000" stroke-width="1" fill="none"/>
<path d="M505.0 369.5H514.0M509.5 365.0V374.0" stroke="#ff0000" stroke-width="1" fill="none"/>
<path d="M505.0 391.5H514.0M509.5 387.0V396.0" stroke="#ff0000" stroke-width="1" fill="none"/>
<rect x="505.00" y="416.00" width="9.00" height="7.00" fill="#ff0000"/>
<path d="M505.0 416.5H514.0M509.5 412.0V421.0" stroke="#ff0000" stroke-width="1" fill="none"/>
<path d="M505.0 422.5H514.0M509.5 418.0V427.0" stroke="#ff0000" stroke-width="1" fill="none"/>
<rect x="504.50" y="400.50" width="10.00" height="6.00" fill="#33ccff" stroke="#141428" stroke-width="1.0"/>
<line x1="505.00" y1="403.50" x2="514.00" y2="403.50" stroke="#3cb4dc" stroke-width="1.0"/>
<line x1="548.50" y1="379.80" x2="548.50" y2="410.00" stroke="#ff0000" stroke-width="1.0"/>
<path d="M544.0 384.5H553.0M548.5 380.0V389.0" stroke="#ff0000" stroke-width="1" fill="none"/>
<path d="M544.0 386.5H553.0M548.5 382.0V391.0" stroke="#ff0000" stroke-width="1" fill="none"/>
<path d="M544.0 389.5H553.0M548.5 385.0V394.0" stroke="#ff0000" stroke-width="1" fill="none"/>
<path d="M544.0 405.5H553.0M548.5 401.0V410.0" stroke="#ff0000" stroke-width="1" fill="none"/>
<rect x="544.00" y="395.00" width="9.00" height="3.00" fill="#ff0000"/>
<rect x="543.00" y="401.05" width="10.00" height="1.70" fill="#10102a"/>
<line x1="567.50" y1="370.20" x2="567.50" y2="400.40" stroke="#ff0000" stroke-width="1.0"/>
<rect x="563.00" y="375.00" width="9.00" height="15.00" fill="#ff0000"/>
<path d="M563.0 374.5H572.0M567.5 370.0V379.0" stroke="#ff0000" stroke-width="1" fill="none"/>
<path d="M563.0 389.5H572.0M567.5 385.0V394.0" stroke="#ff0000" stroke-width="1" fill="none"/>
<path d="M563.0 392.5H572.0M567.5 388.0V397.0" stroke="#ff0000" stroke-width="1" fill="none"/>
<path d="M563.0 395.5H572.0M567.5 391.0V400.0" stroke="#ff0000" stroke-width="1" fill="none"/>
<rect x="563.00" y="416.00" width="9.00" height="4.00" fill="#ff0000"/>
<path d="M563.0 416.5H572.0M567.5 412.0V421.0" stroke="#ff0000" stroke-width="1" fill="none"/>
<rect x="562.00" y="421.15" width="11.00" height="1.70" fill="#10102a"/>
<path d="M582.0 344.5H591.0M586.5 340.0V349.0" stroke="#ff0000" stroke-width="1" fill="none"/>
<line x1="586.50" y1="396.00" x2="586.50" y2="368.70" stroke="#333333" stroke-width="1.2" stroke-dasharray="2.8,3.0"/>
<line x1="584.00" y1="368.50" x2="589.00" y2="368.50" stroke="#262626" stroke-width="1.0"/>
<rect x="582.50" y="396.50" width="9.00" height="25.00" fill="#33ccff" stroke="#141428" stroke-width="1.0"/>
<line x1="583.00" y1="400.50" x2="591.00" y2="400.50" stroke="#3cb4dc" stroke-width="1.0"/>
<line x1="625.50" y1="393.80" x2="625.50" y2="410.20" stroke="#ff0000" stroke-width="1.0"/>
<path d="M621.0 398.5H630.0M625.5 394.0V403.0" stroke="#ff0000" stroke-width="1" fill="none"/>
<path d="M621.0 400.5H630.0M625.5 396.0V405.0" stroke="#ff0000" stroke-width="1" fill="none"/>
<path d="M621.0 401.5H630.0M625.5 397.0V406.0" stroke="#ff0000" stroke-width="1" fill="none"/>
<path d="M621.0 405.5H630.0M625.5 401.0V410.0" stroke="#ff0000" stroke-width="1" fill="none"/>
<rect x="620.00" y="402.35" width="10.00" height="1.70" fill="#10102a"/>
<rect x="640.00" y="386.00" width="9.00" height="11.00" fill="#ff0000"/>
<path d="M640.0 386.5H649.0M644.5 382.0V391.0" stroke="#ff0000" stroke-width="1" fill="none"/>
<path d="M640.0 396.5H649.0M644.5 392.0V401.0" stroke="#ff0000" stroke-width="1" fill="none"/>
<rect x="640.00" y="409.00" width="9.00" height="14.00" fill="#ff0000"/>
<path d="M640.0 409.5H649.0M644.5 405.0V414.0" stroke="#ff0000" stroke-width="1" fill="none"/>
<path d="M640.0 422.5H649.0M644.5 418.0V427.0" stroke="#ff0000" stroke-width="1" fill="none"/>
<rect x="639.50" y="401.50" width="10.00" height="3.00" fill="#6685e6" stroke="#141428" stroke-width="1.0"/>
<rect x="659.00" y="389.00" width="9.00" height="7.00" fill="#ff0000"/>
<path d="M659.0 388.5H668.0M663.5 384.0V393.0" stroke="#ff0000" stroke-width="1" fill="none"/>
<path d="M659.0 395.5H668.0M663.5 391.0V400.0" stroke="#ff0000" stroke-width="1" fill="none"/>
<rect x="659.00" y="408.00" width="9.00" height="14.00" fill="#ff0000"/>
<path d="M659.0 408.5H668.0M663.5 404.0V413.0" stroke="#ff0000" stroke-width="1" fill="none"/>
<path d="M659.0 422.5H668.0M663.5 418.0V427.0" stroke="#ff0000" stroke-width="1" fill="none"/>
<rect x="659.50" y="400.50" width="9.00" height="3.00" fill="#33ccff" stroke="#141428" stroke-width="1.0"/>
<line x1="721.50" y1="378.00" x2="721.50" y2="426.00" stroke="#ff0000" stroke-width="1.0"/>
<path d="M717.0 382.5H726.0M721.5 378.0V387.0" stroke="#ff0000" stroke-width="1" fill="none"/>
<path d="M717.0 385.5H726.0M721.5 381.0V390.0" stroke="#ff0000" stroke-width="1" fill="none"/>
<path d="M717.0 386.5H726.0M721.5 382.0V391.0" stroke="#ff0000" stroke-width="1" fill="none"/>
<path d="M717.0 388.5H726.0M721.5 384.0V393.0" stroke="#ff0000" stroke-width="1" fill="none"/>
<path d="M717.0 397.5H726.0M721.5 393.0V402.0" stroke="#ff0000" stroke-width="1" fill="none"/>
<path d="M717.0 401.5H726.0M721.5 397.0V406.0" stroke="#ff0000" stroke-width="1" fill="none"/>
<path d="M717.0 403.5H726.0M721.5 399.0V408.0" stroke="#ff0000" stroke-width="1" fill="none"/>
<path d="M717.0 405.5H726.0M721.5 401.0V410.0" stroke="#ff0000" stroke-width="1" fill="none"/>
<path d="M717.0 412.5H726.0M721.5 408.0V417.0" stroke="#ff0000" stroke-width="1" fill="none"/>
<path d="M717.0 420.5H726.0M721.5 416.0V425.0" stroke="#ff0000" stroke-width="1" fill="none"/>
<path d="M717.0 422.5H726.0M721.5 418.0V427.0" stroke="#ff0000" stroke-width="1" fill="none"/>
<rect x="717.00" y="385.00" width="9.00" height="12.00" fill="#ff0000"/>
<rect x="717.00" y="405.00" width="9.00" height="15.00" fill="#ff0000"/>
<rect x="716.00" y="421.15" width="11.00" height="1.70" fill="#10102a"/>
<line x1="740.50" y1="404.70" x2="740.50" y2="381.70" stroke="#333333" stroke-width="1.2" stroke-dasharray="2.8,3.0"/>
<line x1="738.00" y1="381.50" x2="743.00" y2="381.50" stroke="#262626" stroke-width="1.0"/>
<rect x="736.50" y="404.50" width="9.00" height="17.00" fill="#33ccff" stroke="#141428" stroke-width="1.0"/>
<rect x="75.50" y="266.50" width="675.00" height="168.00" fill="none" stroke="#4d4d4d" stroke-width="1.0"/>
<line x1="75.50" y1="422.50" x2="83.00" y2="422.50" stroke="#444444" stroke-width="1.0"/>
<line x1="750.50" y1="422.50" x2="743.00" y2="422.50" stroke="#444444" stroke-width="1.0"/>
<line x1="75.50" y1="374.50" x2="83.00" y2="374.50" stroke="#444444" stroke-width="1.0"/>
<line x1="750.50" y1="374.50" x2="743.00" y2="374.50" stroke="#444444" stroke-width="1.0"/>
<line x1="75.50" y1="326.50" x2="83.00" y2="326.50" stroke="#444444" stroke-width="1.0"/>
<line x1="750.50" y1="326.50" x2="743.00" y2="326.50" stroke="#444444" stroke-width="1.0"/>
<line x1="75.50" y1="278.50" x2="83.00" y2="278.50" stroke="#444444" stroke-width="1.0"/>
<line x1="750.50" y1="278.50" x2="743.00" y2="278.50" stroke="#444444" stroke-width="1.0"/>
<line x1="104.50" y1="434.50" x2="104.50" y2="427.00" stroke="#444444" stroke-width="1.0"/>
<line x1="104.50" y1="266.50" x2="104.50" y2="274.00" stroke="#444444" stroke-width="1.0"/>
<line x1="181.50" y1="434.50" x2="181.50" y2="427.00" stroke="#444444" stroke-width="1.0"/>
<line x1="181.50" y1="266.50" x2="181.50" y2="274.00" stroke="#444444" stroke-width="1.0"/>
<line x1="258.50" y1="434.50" x2="258.50" y2="427.00" stroke="#444444" stroke-width="1.0"/>
<line x1="258.50" y1="266.50" x2="258.50" y2="274.00" stroke="#444444" stroke-width="1.0"/>
<line x1="336.50" y1="434.50" x2="336.50" y2="427.00" stroke="#444444" stroke-width="1.0"/>
<line x1="336.50" y1="266.50" x2="336.50" y2="274.00" stroke="#444444" stroke-width="1.0"/>
<line x1="413.50" y1="434.50" x2="413.50" y2="427.00" stroke="#444444" stroke-width="1.0"/>
<line x1="413.50" y1="266.50" x2="413.50" y2="274.00" stroke="#444444" stroke-width="1.0"/>
<line x1="490.50" y1="434.50" x2="490.50" y2="427.00" stroke="#444444" stroke-width="1.0"/>
<line x1="490.50" y1="266.50" x2="490.50" y2="274.00" stroke="#444444" stroke-width="1.0"/>
<line x1="567.50" y1="434.50" x2="567.50" y2="427.00" stroke="#444444" stroke-width="1.0"/>
<line x1="567.50" y1="266.50" x2="567.50" y2="274.00" stroke="#444444" stroke-width="1.0"/>
<line x1="644.50" y1="434.50" x2="644.50" y2="427.00" stroke="#444444" stroke-width="1.0"/>
<line x1="644.50" y1="266.50" x2="644.50" y2="274.00" stroke="#444444" stroke-width="1.0"/>
<line x1="721.50" y1="434.50" x2="721.50" y2="427.00" stroke="#444444" stroke-width="1.0"/>
<line x1="721.50" y1="266.50" x2="721.50" y2="274.00" stroke="#444444" stroke-width="1.0"/>
<text x="68.0" y="190.6" text-anchor="end" class="t">0</text>
<text x="68.0" y="140.9" text-anchor="end" class="t">2000</text>
<text x="68.0" y="91.2" text-anchor="end" class="t">4000</text>
<text x="68.0" y="41.5" text-anchor="end" class="t">6000</text>
<text x="104.5" y="222.7" text-anchor="middle" class="t">SPSP</text>
<text x="181.6" y="222.7" text-anchor="middle" class="t">ML</text>
<text x="258.8" y="222.7" text-anchor="middle" class="t">FN</text>
<text x="335.9" y="222.7" text-anchor="middle" class="t">AR</text>
<text x="413.0" y="222.7" text-anchor="middle" class="t">RC</text>
<text x="490.1" y="222.7" text-anchor="middle" class="t">CC</text>
<text x="567.2" y="222.7" text-anchor="middle" class="t">AB</text>
<text x="644.4" y="222.7" text-anchor="middle" class="t">TR</text>
<text x="721.5" y="222.7" text-anchor="middle" class="t">CF</text>
<text x="68.0" y="429.8" text-anchor="end" class="t">0</text>
<text x="68.0" y="381.9" text-anchor="end" class="t">2000</text>
<text x="68.0" y="334.0" text-anchor="end" class="t">4000</text>
<text x="68.0" y="286.1" text-anchor="end" class="t">6000</text>
<text x="104.5" y="461.0" text-anchor="middle" class="t">SPSP</text>
<text x="181.6" y="461.0" text-anchor="middle" class="t">ML</text>
<text x="258.8" y="461.0" text-anchor="middle" class="t">FN</text>
<text x="335.9" y="461.0" text-anchor="middle" class="t">AR</text>
<text x="413.0" y="461.0" text-anchor="middle" class="t">RC</text>
<text x="490.1" y="461.0" text-anchor="middle" class="t">CC</text>
<text x="567.2" y="461.0" text-anchor="middle" class="t">AB</text>
<text x="644.4" y="461.0" text-anchor="middle" class="t">TR</text>
<text x="721.5" y="461.0" text-anchor="middle" class="t">CF</text>
<text transform="translate(16.8,109.2) rotate(-90)" text-anchor="middle" class="yl">Distance (km)</text>
<text transform="translate(16.8,351) rotate(-90)" text-anchor="middle" class="yl">Distance (km)</text>
<text x="13.2" y="11.3" class="pl">a</text>
<text x="14.2" y="255.8" class="pl">b</text>
<rect x="148.5" y="472.5" width="45" height="17" fill="#353598" stroke="#141428" stroke-width="1"/>
<rect x="289.5" y="472.5" width="46" height="17" fill="#6685e6" stroke="#141428" stroke-width="1"/>
<rect x="481.5" y="472.5" width="46" height="17" fill="#33ccff" stroke="#141428" stroke-width="1"/>
<text x="197.5" y="488.8" class="lg">Historical</text>
<text x="339" y="488.8" class="lg">RCP 8.5 (+0&#186;C)</text>
<text x="530.5" y="488.8" class="lg">RCP 8.5 (+3&#186;C)</text>
</svg>
</body></html>
